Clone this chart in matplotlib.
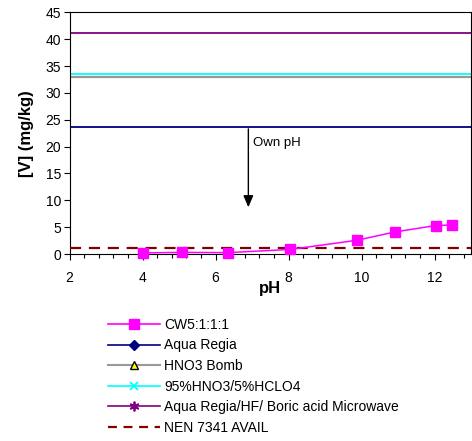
import matplotlib
matplotlib.use("Agg")
import matplotlib.pyplot as plt
from matplotlib.lines import Line2D
from matplotlib.ticker import MultipleLocator
import numpy as np

plt.rcParams['font.family'] = ['Liberation Sans', 'DejaVu Sans']

# Data
ph_cw5 = [4.0, 5.08, 6.33, 8.05, 9.87, 10.91, 12.03, 12.47]
v_cw5 = [0.2, 0.3, 0.25, 0.85, 2.55, 4.1, 5.3, 5.4]

series_names = ["CW5:1:1:1", "Aqua Regia", "HNO3 Bomb", "95%HNO3/5%HCLO4",
                "Aqua Regia/HF/ Boric acid Microwave", "NEN 7341 AVAIL"]
level_aqua_regia = 23.7
level_hno3_bomb = 33.0
level_hno3_hclo4 = 33.5
level_microwave = 41.2
level_nen = 1.2

arrow_ph = 6.9
arrow_top = 23.3
arrow_tip = 8.7

fig = plt.figure(figsize=(4.72, 4.41), dpi=100)
W, H = 472, 441
ax = fig.add_axes([69.5 / W, 1 - 254 / H, (471 - 69.5) / W, (254 - 12.3) / H])

ax.axhline(level_aqua_regia, color="#000080", lw=1.3, zorder=2)
ax.axhline(level_hno3_bomb, color="#999999", lw=1.6, zorder=2)
ax.axhline(level_hno3_hclo4, color="#00FFFF", lw=1.3, zorder=2)
ax.axhline(level_microwave, color="#800080", lw=1.3, zorder=2)
ax.axhline(level_nen, color="#800000", lw=1.6, ls=(0, (5, 3.5)), zorder=3)
ax.plot(ph_cw5, v_cw5, color="#FF00FF", lw=1.1, marker="s", ms=7.5,
        markerfacecolor="#FF00FF", markeredgecolor="#FF00FF", zorder=4, clip_on=False)

ax.annotate("", xy=(arrow_ph, arrow_tip), xytext=(arrow_ph, arrow_top),
            arrowprops=dict(arrowstyle="-|>,head_width=0.3,head_length=0.7",
                            color="black", lw=1.0, shrinkA=0, shrinkB=0))
ax.text(arrow_ph + 0.12, 20.6, "Own pH", fontsize=9.5, ha="left", va="center")

ax.set_xlim(2, 13)
ax.set_ylim(0, 45)
ax.xaxis.set_major_locator(MultipleLocator(2))
ax.xaxis.set_minor_locator(MultipleLocator(0.4))
ax.yaxis.set_major_locator(MultipleLocator(5))
ax.tick_params(axis="both", which="major", labelsize=10, length=4, width=0.8, direction="out")
ax.tick_params(axis="x", which="minor", length=3, width=0.8, direction="out")
ax.tick_params(axis="x", pad=8)
ax.tick_params(axis="y", pad=2)
for s in ax.spines.values():
    s.set_linewidth(0.8)
ax.set_xticks([2, 4, 6, 8, 10, 12])
ax.set_xlabel("pH", fontsize=12, fontweight="bold", labelpad=-3)
ax.set_ylabel("[V] (mg/kg)", fontsize=12, fontweight="bold", labelpad=8)

handles = [
    Line2D([], [], color="#FF00FF", lw=1.2, marker="s", ms=7.5, markerfacecolor="#FF00FF"),
    Line2D([], [], color="#000080", lw=1.2, marker="D", ms=5, markerfacecolor="#000080"),
    Line2D([], [], color="#999999", lw=1.5, marker="^", ms=6, markerfacecolor="#FFFF00", markeredgecolor="black"),
    Line2D([], [], color="#00FFFF", lw=1.2, marker="x", ms=6, markeredgecolor="#00FFFF", markeredgewidth=1.3),
    Line2D([], [], color="#800080", lw=1.2, marker=(6, 2, 0), ms=7, markeredgecolor="#800080", markeredgewidth=1.3),
    Line2D([], [], color="#800000", lw=1.6, ls=(0, (4, 3))),
]
fig.legend(handles, series_names, loc="upper left", bbox_to_anchor=(101 / W, 1 - 311 / H),
           frameon=False, fontsize=10, handlelength=3.75, handletextpad=0.3,
           labelspacing=0.47, borderpad=0)

fig.savefig("out.png", dpi=100)
